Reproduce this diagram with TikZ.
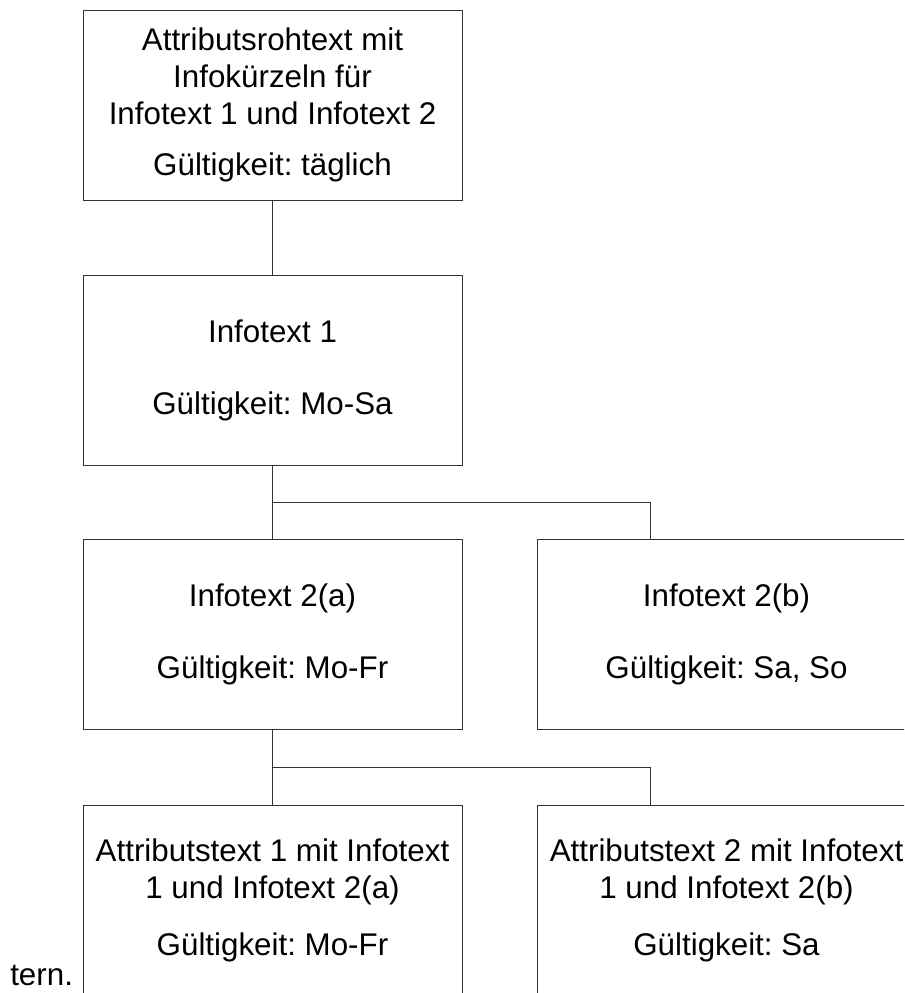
\documentclass[tikz,border=0pt]{standalone}
\usepackage{fontspec}
\setmainfont{Liberation Sans}
\usetikzlibrary{calc,positioning}
\frenchspacing

\begin{document}
\begin{tikzpicture}[x=0.75pt,y=-0.75pt,draw=black!80]
    \tikzstyle{infobox}=[draw,line width=0.75pt,rectangle,inner sep=0pt,minimum width=284.25pt,minimum height=142.5pt,align=center,font=\fontsize{23.5}{27.75}\selectfont]
    \tikzstyle{link}=[line width=0.75pt]
    \tikzstyle{stray}=[inner sep=0pt,anchor=base west,font=\fontsize{23.5}{27.75}\selectfont]

\useasboundingbox (0,0) rectangle (904,993);
\clip (0,0) rectangle (904,993);

\node[infobox] (root) at (272.5,105) {Attributsrohtext mit\\Infokürzeln für\\Infotext 1 und Infotext 2\\[11pt]Gültigkeit: täglich};
\node[infobox] (info1) at (272.5,370.5) {Infotext 1\\[26pt]Gültigkeit: Mo-Sa};
\node[infobox] (info2a) at (272.5,634.5) {Infotext 2(a)\\[26pt]Gültigkeit: Mo-Fr};
\node[infobox] (info2b) at (726.5,634.5) {Infotext 2(b)\\[26pt]Gültigkeit: Sa, So};
\node[infobox] (attr1) at (272.5,900) {Attributstext 1 mit Infotext\\1 und Infotext 2(a)\\[15pt]Gültigkeit: Mo-Fr};
\node[infobox] (attr2) at (726.5,900) {Attributstext 2 mit Infotext\\1 und Infotext 2(b)\\[15pt]Gültigkeit: Sa};
\node[stray] (tern) at (10,985) {tern.};

\coordinate (j1) at ($(info1.south)!0.5!(info2a.north)$);
\coordinate (k1) at ($(info2b.north west)+(114,0)$);
\coordinate (j2) at ($(info2a.south)!0.5!(attr1.north)$);
\coordinate (k2) at ($(attr2.north west)+(114,0)$);

\draw[link] (root) -- (info1);
\draw[link] (info1) -- (info2a);
\draw[link] (j1) -| (k1);
\draw[link] (info2a) -- (attr1);
\draw[link] (j2) -| (k2);
\end{tikzpicture}
\end{document}
